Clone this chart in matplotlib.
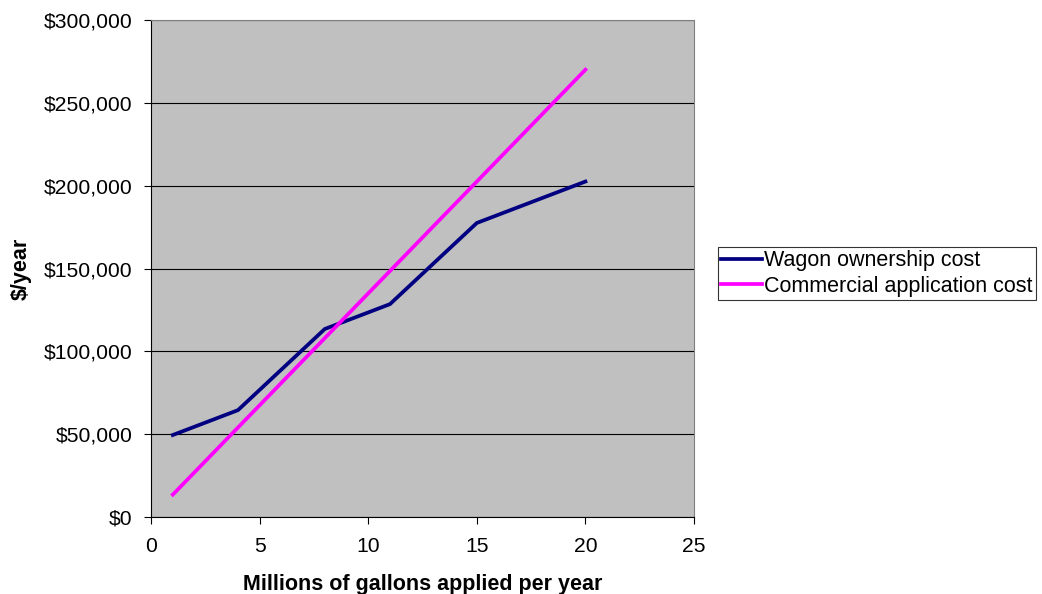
import matplotlib.pyplot as plt
from matplotlib.ticker import FuncFormatter

plt.rcParams['font.family'] = ['Liberation Sans', 'DejaVu Sans']

gallons = [1, 4, 8, 11, 15, 20]
wagon_cost = [49500, 64500, 113500, 128500, 177500, 202500]
commercial_cost = [13500, 54000, 108000, 148500, 202500, 270000]

fig = plt.figure(figsize=(10.42, 5.94), dpi=100)
ax = fig.add_axes([0.145, 0.1296, 0.521, 0.8367])
ax.set_facecolor('#C0C0C0')

ax.plot(gallons, wagon_cost, color='#000080', lw=2.7, label='Wagon ownership cost', zorder=3)
ax.plot(gallons, commercial_cost, color='#FF00FF', lw=2.7, label='Commercial application cost', zorder=3)

ax.set_xlim(0, 25)
ax.set_ylim(0, 300000)
ax.set_xticks(range(0, 26, 5))
ax.set_yticks(range(0, 300001, 50000))
ax.yaxis.set_major_formatter(FuncFormatter(lambda v, p: '${:,.0f}'.format(v)))
ax.grid(axis='y', color='black', lw=0.8)
ax.set_axisbelow(True)

for s in ['top', 'right']:
    ax.spines[s].set_color('#808080')
for s in ['left', 'bottom']:
    ax.spines[s].set_color('black')
ax.tick_params(direction='out', length=5, labelsize=15.2, colors='black')
ax.tick_params(axis='y', pad=8.5)
ax.tick_params(axis='x', pad=9.5)

ax.set_xlabel('Millions of gallons applied per year', fontsize=15.5, fontweight='bold', labelpad=13)
ax.set_ylabel('$/year', fontsize=15.5, fontweight='bold', labelpad=8.5)

leg = ax.legend(loc='center left', bbox_to_anchor=(1.044, 0.49), fontsize=15.5, frameon=True,
                fancybox=False, edgecolor='black', handlelength=1.9, handletextpad=0.1,
                borderpad=0.15, labelspacing=0.2, borderaxespad=0)
leg.get_frame().set_linewidth(0.8)

fig.savefig('out.png', dpi=100)
